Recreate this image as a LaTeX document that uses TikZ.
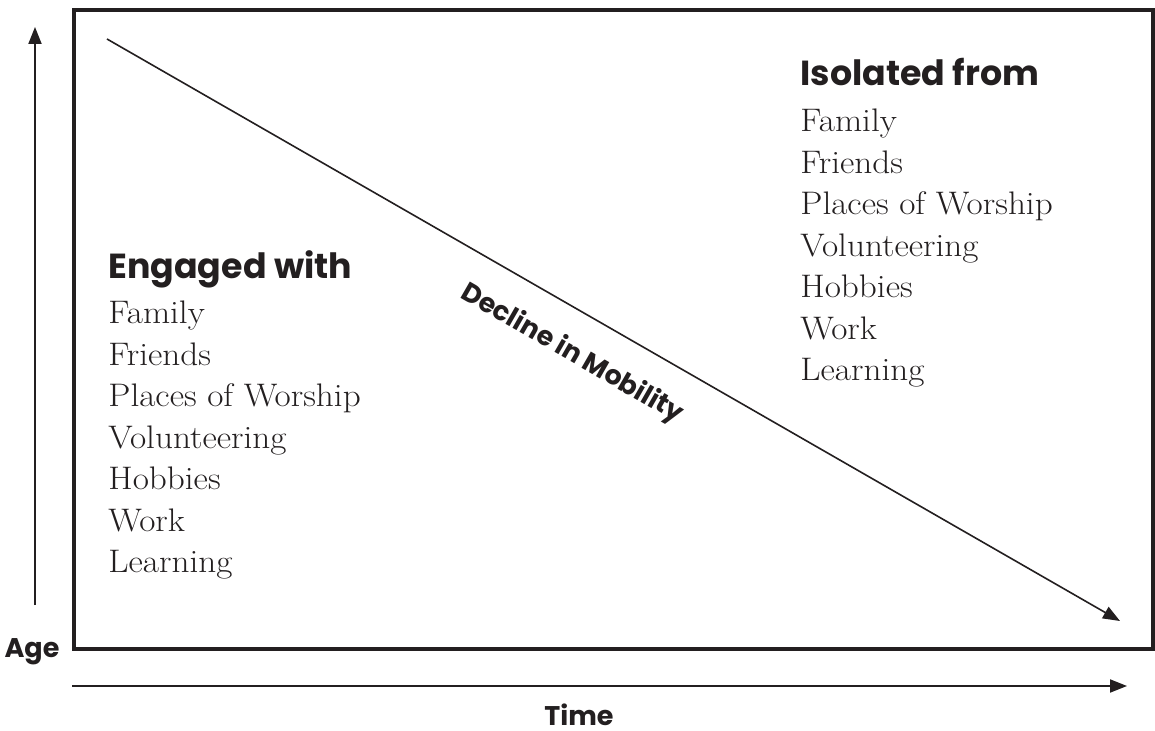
\documentclass[tikz,border=0pt]{standalone}
\usepackage{fontspec}
\setmainfont{Latin Modern Roman}[FakeStretch=1.08]
\newfontfamily\headfont{Poppins}
\usepackage{tikz}
\usetikzlibrary{positioning,arrows.meta}

\definecolor{inkblack}{RGB}{35,31,32}

\begin{document}
\begin{tikzpicture}[
    x=0.5pt, y=-0.5pt,
    >={Triangle[length=8.5pt,width=6.5pt]},
    every node/.style={text=inkblack, inner sep=0pt},
    heading/.style={font=\headfont\bfseries\fontsize{17.4}{20}\selectfont, anchor=base west},
    axislabel/.style={font=\headfont\bfseries\fontsize{13.5}{16}\selectfont, anchor=base},
    itemlist/.style={font=\fontsize{16.3}{20.75}\selectfont, align=left, anchor=north west},
    axis/.style={draw=inkblack, line width=1pt, ->}
]

% ---------------- Frame ----------------
\useasboundingbox (0,0) rectangle (1155,731);
\draw[inkblack, line width=2pt] (74,10) rectangle (1153,649);

% ---------------- Axes ----------------
\coordinate (ageLo) at (35,605);
\coordinate (ageHi) at (35,27);
\coordinate (timeLo) at (72,686);
\coordinate (timeHi) at (1127,686);
\node[axislabel] (age) at (32,657) {Age};
\node[axislabel] (time) at (579,725) {Time};
\draw[axis] (ageLo) -- (ageHi);
\draw[axis] (timeLo) -- (timeHi);

% ---------------- Decline ----------------
\coordinate (mobHi) at (107,39);
\coordinate (mobLo) at (1120,621);
\draw[inkblack, line width=0.8pt, ->] (mobHi) -- (mobLo);
\node[font=\headfont\bfseries\fontsize{13.4}{15}\selectfont, rotate=-29.9] (decline) at (572,354) {Decline in Mobility};

% ---------------- Engaged ----------------
\node[heading] (engaged) at (108,279) {Engaged with};
\node[itemlist] (engList) at (108,300.5) {Family\\Friends\\Places of Worship\\Volunteering\\Hobbies\\Work\\Learning};

% ---------------- Isolated ----------------
\node[heading] (isolated) at (800,86) {Isolated from};
\node[itemlist] (isoList) at (800,108.5) {Family\\Friends\\Places of Worship\\Volunteering\\Hobbies\\Work\\Learning};

\end{tikzpicture}
\end{document}
